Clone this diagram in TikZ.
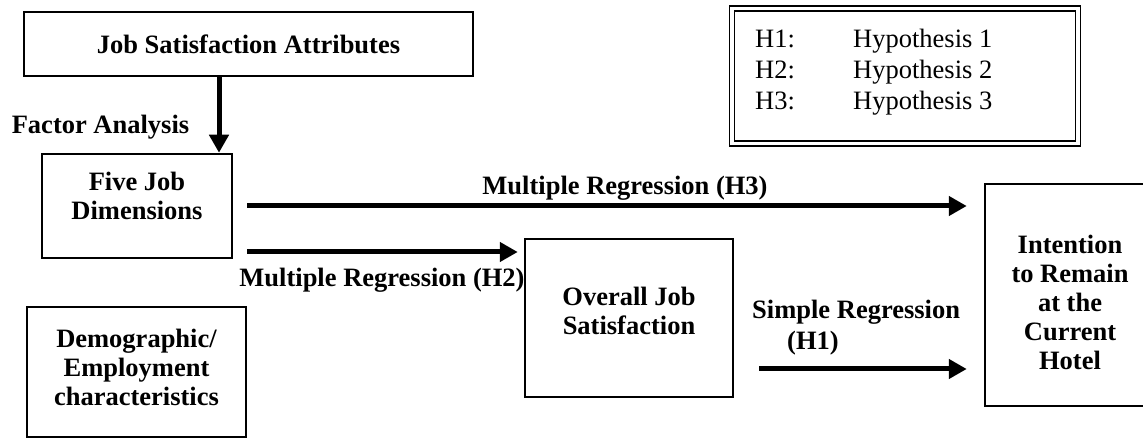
\documentclass[tikz,border=0pt]{standalone}
\usepackage{fontspec}
\setmainfont{Liberation Serif}
\usetikzlibrary{arrows.meta}
\newcommand\boxtxt[2]{\raisebox{#1}[\height][\depth]{\begin{tabular}{@{}c@{}}#2\end{tabular}}}
\begin{document}
\begin{tikzpicture}[x=1pt,y=1pt,
  box/.style={draw,line width=2.5pt,inner sep=0pt,align=center,font=\bfseries\fontsize{26.5}{29}\selectfont},
  lbl/.style={inner sep=0pt,font=\bfseries\fontsize{26.5}{31}\selectfont},
  arr/.style={line width=5pt,-{Triangle[length=18pt,width=19pt]}}]
\useasboundingbox (0,0) rectangle (1143,439);
\clip (0,0) rectangle (1143,439);
% boxes
\node[box,minimum width=449pt,minimum height=64pt] (jsa) at (248.5,395) {Job Satisfaction Attributes};
\node[box,minimum width=190pt,minimum height=104pt] (fj) at (137,233) {\boxtxt{7pt}{Five Job\\Dimensions}};
\node[box,minimum width=219pt,minimum height=130pt] (dem) at (136.5,67) {\boxtxt{1pt}{Demographic/\\Employment\\characteristics}};
\node[box,minimum width=208pt,minimum height=158pt] (ojs) at (629,121) {\boxtxt{4pt}{Overall Job\\Satisfaction}};
\node[box,minimum width=170pt,minimum height=222pt] (int) at (1070,144) {\boxtxt{-11pt}{Intention\\to Remain\\at the\\Current\\Hotel}};
% legend
\node[draw,double,line width=1.5pt,double distance=3.5pt,minimum width=346pt,minimum height=135pt,inner sep=0pt] (leg) at (905,363) {};
\node[anchor=west,inner sep=0pt,align=left,font=\fontsize{26.5}{31}\selectfont] (legtxt) at (755,367)
  {\makebox[98pt][l]{H1:}Hypothesis 1\\\makebox[98pt][l]{H2:}Hypothesis 2\\\makebox[98pt][l]{H3:}Hypothesis 3};
% labels
\node[lbl] (fa) at (100.5,312) {Factor Analysis};
\node[lbl] (l3) at (625,251) {Multiple Regression (H3)};
\node[lbl] (l2) at (382,159) {Multiple Regression (H2)};
\node[lbl,anchor=west,align=left] (l1) at (752,111.5) {Simple Regression\\\hspace{35pt}(H1)};
% connectors
\coordinate (vx) at (219,0);
\draw[arr] (jsa.south -| vx) -- (fj.north -| vx);
\coordinate (h3s) at ([xshift=14pt]fj.east);
\coordinate (h3e) at (h3s -| int.west);
\draw[arr] (h3s) -- ([xshift=-17pt]h3e);
\coordinate (h2s) at ([xshift=14pt,yshift=-46pt]fj.east);
\coordinate (h2e) at (h2s -| ojs.west);
\draw[arr] (h2s) -- ([xshift=-6pt]h2e);
\coordinate (h1s) at ([xshift=25pt,yshift=-51pt]ojs.east);
\coordinate (h1e) at (h1s -| int.west);
\draw[arr] (h1s) -- ([xshift=-17pt]h1e);
\end{tikzpicture}
\end{document}
